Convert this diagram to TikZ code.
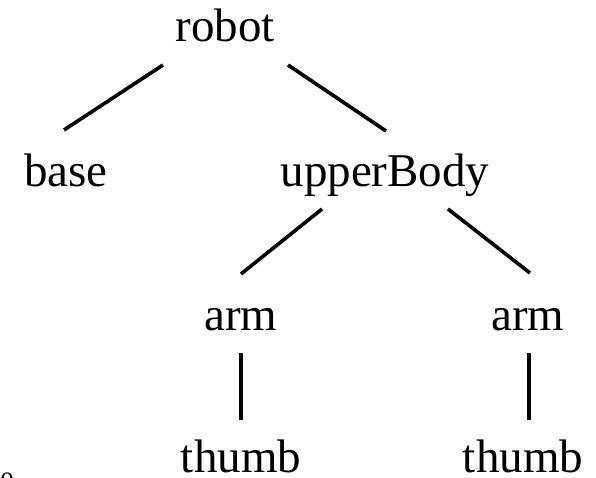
\documentclass[tikz,border=0pt]{standalone}
\usepackage{fontspec}
\setmainfont{Liberation Serif}
\begin{document}
\begin{tikzpicture}[x=1pt,y=-1pt,
  label/.style={inner sep=0pt,anchor=base,font=\fontsize{47}{50}\selectfont},
  edge/.style={line width=3.6pt,black}]
\useasboundingbox (0,0) rectangle (596,478);
\fill[white] (0,0) rectangle (596,478);
% tree labels
\node[label] (robot) at (225,42)  {robot};
\node[label] (base)  at (66,187)  {base};
\node[label] (upper) at (385,187) {upperBody};
\node[label] (armL)  at (241,330) {arm};
\node[label] (armR)  at (528,330) {arm};
\node[label] (thumbL) at (241,472) {thumb};
\node[label] (thumbR) at (523,472) {thumb};
\node[inner sep=0pt,anchor=base,font=\fontsize{28}{30}\selectfont] (zero) at (7,491) {0};
% branches
\draw[edge] ([shift={(-62,23)}]robot.base) -- ([shift={(-2,-57)}]base.base);
\draw[edge] ([shift={(63,23)}]robot.base) -- ([shift={(1,-56)}]upper.base);
\draw[edge] ([shift={(-63,22)}]upper.base) -- ([shift={(0,-56)}]armL.base);
\draw[edge] ([shift={(63,22)}]upper.base) -- ([shift={(2,-57)}]armR.base);
\draw[edge] ([shift={(0,23)}]armL.base) -- ([shift={(0,-52)}]thumbL.base);
\draw[edge] ([shift={(1,23)}]armR.base) -- ([shift={(6,-52)}]thumbR.base);
\end{tikzpicture}
\end{document}
